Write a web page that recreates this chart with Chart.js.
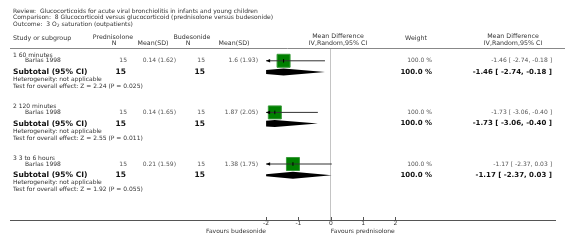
<!DOCTYPE html>
<html>
<head>
<meta charset="utf-8">
<script src="https://cdn.jsdelivr.net/npm/chart.js@4.4.0/dist/chart.umd.min.js"></script>
<style>
body { margin: 0; background: #fff; }
#wrap { width: 566px; height: 249px; }
</style>
</head>
<body>
<div id="wrap"><canvas id="forest" width="566" height="249"></canvas></div>
<script>
// datos del grafico
const groupNames = ['1 60 minutes', '2 120 minutes', '3 3 to 6 hours'];
const studyNames = ['Barlas 1998', 'Barlas 1998', 'Barlas 1998'];
const prednN = [15, 15, 15];
const prednMean = [0.14, 0.14, 0.21];
const prednSD = [1.62, 1.65, 1.59];
const budesN = [15, 15, 15];
const budesMean = [1.6, 1.87, 1.38];
const budesSD = [1.93, 2.05, 1.75];
const meanDiff = [-1.46, -1.73, -1.17];
const ciLow = [-2.74, -3.06, -2.37];
const ciHigh = [-0.18, -0.40, 0.03];
const weights = [100, 100, 100];
const zValues = [2.24, 2.55, 1.92];
const pValues = [0.025, 0.011, 0.055];
const xTicks = [-2, -1, 0, 1, 2];

// layout (pixeles)
const W = 566, H = 249;
const plotTop = 48.5, axisY = 220;
const tickLeftPx = 266, tickRightPx = 400;
const FONT = "'DejaVu Sans', Verdana, sans-serif";

const tMin = xTicks[0], tMax = xTicks[xTicks.length - 1];
const pxPerUnit = (tickRightPx - tickLeftPx) / (tMax - tMin);
const xMin = tMin - (tickLeftPx - 1) / pxPerUnit;
const xMax = tMax + (W - tickRightPx) / pxPerUnit;

function groupY(g) { return 55 + 51.6 * g; }
function studyY(g) { return groupY(g) + 5.8; }
function subtotalY(g) { return groupY(g) + 17; }

const sum = arr => arr.reduce((a, b) => a + b, 0);
const fmtCI = i => meanDiff[i].toFixed(2) + ' [ ' + ciLow[i].toFixed(2) + ', ' + ciHigh[i].toFixed(2) + ' ]';

// datasets
const datasets = [];
datasets.push({
    label: 'centro',
    data: meanDiff.map((v, i) => ({ x: v, y: studyY(i) })),
    pointStyle: 'line', rotation: 90, pointRadius: 1.8,
    borderColor: '#000', borderWidth: 1, showLine: false
});
meanDiff.forEach((v, i) => {
    datasets.push({
        label: 'ci' + i,
        data: [{ x: Math.max(ciLow[i], tMin), y: studyY(i) }, { x: Math.min(ciHigh[i], tMax), y: studyY(i) }],
        showLine: true, borderColor: '#333', borderWidth: 1, pointRadius: 0
    });
});
datasets.push({
    label: 'peso',
    data: meanDiff.map((v, i) => ({ x: v, y: studyY(i) })),
    pointStyle: 'rect', pointRadius: 9.2,
    backgroundColor: '#008000', borderColor: '#3a9a3a', borderWidth: 1, showLine: false
});

function text(ctx, str, x, y, align, font, color) {
    ctx.font = font;
    ctx.fillStyle = color;
    ctx.textAlign = align;
    ctx.textBaseline = 'middle';
    ctx.fillText(str, x, y);
}

const forestPlugin = {
    id: 'forestPlugin',
    afterDatasetsDraw(chart) {
        const ctx = chart.ctx;
        const xs = chart.scales.x, ys = chart.scales.y;
        const left = xs.getPixelForValue(tMin), right = xs.getPixelForValue(tMax);
        // diamantes
        ctx.save();
        ctx.beginPath();
        ctx.rect(left, chart.chartArea.top, right - left, chart.chartArea.bottom - chart.chartArea.top);
        ctx.clip();
        meanDiff.forEach((v, i) => {
            const y = ys.getPixelForValue(subtotalY(i));
            ctx.beginPath();
            ctx.moveTo(xs.getPixelForValue(ciLow[i]), y);
            ctx.lineTo(xs.getPixelForValue(v), y - 3.5);
            ctx.lineTo(xs.getPixelForValue(ciHigh[i]), y);
            ctx.lineTo(xs.getPixelForValue(v), y + 3.5);
            ctx.closePath();
            ctx.fillStyle = '#000';
            ctx.fill();
        });
        ctx.restore();
        // flechas
        ctx.save();
        ctx.fillStyle = '#000';
        meanDiff.forEach((v, i) => {
            const y = ys.getPixelForValue(studyY(i));
            if (ciLow[i] < tMin) {
                ctx.beginPath();
                ctx.moveTo(left, y);
                ctx.lineTo(left + 4, y - 1.8);
                ctx.lineTo(left + 4, y + 1.8);
                ctx.closePath();
                ctx.fill();
            }
            if (ciHigh[i] > tMax) {
                ctx.beginPath();
                ctx.moveTo(right, y);
                ctx.lineTo(right - 4, y - 1.8);
                ctx.lineTo(right - 4, y + 1.8);
                ctx.closePath();
                ctx.fill();
            }
        });
        // marcas del eje hacia adentro
        ctx.strokeStyle = '#555';
        ctx.lineWidth = 1;
        xTicks.forEach(t => {
            const x = Math.round(xs.getPixelForValue(t)) + 0.5;
            ctx.beginPath();
            ctx.moveTo(x, axisY);
            ctx.lineTo(x, axisY - 3);
            ctx.stroke();
        });
        ctx.restore();
    },
    afterDraw(chart) {
        const ctx = chart.ctx;
        ctx.save();
        const small = '6px ' + FONT;
        const head = '6.3px ' + FONT;
        const dark = '#333', grey = '#555';

        // titulo
        text(ctx, 'Review:  Glucocorticoids for acute viral bronchiolitis in infants and young children', 13, 11, 'left', small, dark);
        text(ctx, 'Comparison:  8 Glucocorticoid versus glucocorticoid (prednisolone versus budesonide)', 13, 17.5, 'left', small, dark);
        let s = 'Outcome:  3 O';
        text(ctx, s, 13, 24, 'left', small, dark);
        ctx.font = small;
        let w = ctx.measureText(s).width;
        text(ctx, '2', 13 + w, 26, 'left', '4.5px ' + FONT, dark);
        ctx.font = '4.5px ' + FONT;
        const w2 = ctx.measureText('2').width;
        text(ctx, ' saturation (outpatients)', 13 + w + w2, 24, 'left', small, dark);

        // encabezados
        text(ctx, 'Study or subgroup', 13, 38.5, 'left', head, dark);
        text(ctx, 'Prednisolone', 113, 37, 'center', head, dark);
        text(ctx, 'N', 114, 43.3, 'center', head, dark);
        text(ctx, 'Mean(SD)', 153, 43.3, 'center', head, dark);
        text(ctx, 'Budesonide', 192, 37, 'center', head, dark);
        text(ctx, 'N', 188, 43.3, 'center', head, dark);
        text(ctx, 'Mean(SD)', 234, 43.3, 'center', head, dark);
        text(ctx, 'Mean Difference', 338, 36.3, 'center', head, dark);
        text(ctx, 'IV,Random,95% CI', 338, 43.3, 'center', head, dark);
        text(ctx, 'Weight', 416, 38.5, 'center', head, dark);
        text(ctx, 'Mean Difference', 513, 36.3, 'center', head, dark);
        text(ctx, 'IV,Random,95% CI', 513, 43.3, 'center', head, dark);

        ctx.strokeStyle = '#888';
        ctx.lineWidth = 1;
        ctx.beginPath();
        ctx.moveTo(10, plotTop);
        ctx.lineTo(565, plotTop);
        ctx.stroke();

        // filas
        groupNames.forEach((g, i) => {
            const y0 = groupY(i), y1 = studyY(i), y2 = subtotalY(i);
            text(ctx, g, 13, y0, 'left', small, dark);
            text(ctx, studyNames[i], 25, y1, 'left', small, dark);
            text(ctx, String(prednN[i]), 127, y1, 'right', small, grey);
            text(ctx, prednMean[i] + ' (' + prednSD[i] + ')', 176, y1, 'right', small, grey);
            text(ctx, String(budesN[i]), 205, y1, 'right', small, grey);
            text(ctx, budesMean[i] + ' (' + budesSD[i] + ')', 258, y1, 'right', small, grey);
            text(ctx, weights[i].toFixed(1) + ' %', 432, y1, 'right', small, grey);
            text(ctx, fmtCI(i), 552, y1, 'right', small, grey);

            const bold = 'bold 7.5px ' + FONT;
            text(ctx, 'Subtotal (95% CI)', 13, y2, 'left', bold, '#111');
            text(ctx, String(sum([prednN[i]])), 126, y2, 'right', bold, '#111');
            text(ctx, String(sum([budesN[i]])), 205, y2, 'right', bold, '#111');
            text(ctx, weights[i].toFixed(1) + ' %', 432, y2, 'right', 'bold 7px ' + FONT, '#111');
            text(ctx, fmtCI(i), 552, y2, 'right', 'bold 7px ' + FONT, '#111');

            text(ctx, 'Heterogeneity: not applicable', 13, y0 + 24.5, 'left', small, dark);
            text(ctx, 'Test for overall effect: Z = ' + zValues[i] + ' (P = ' + pValues[i] + ')', 13, y0 + 31.5, 'left', small, dark);
        });

        // etiquetas del eje
        text(ctx, 'Favours budesonide', tickLeftPx, axisY + 11.5, 'right', small, dark);
        text(ctx, 'Favours prednisolone', chart.scales.x.getPixelForValue(0), axisY + 11.5, 'left', small, dark);
        ctx.restore();
    }
};

new Chart(document.getElementById('forest').getContext('2d'), {
    type: 'scatter',
    data: { datasets: datasets },
    options: {
        responsive: false,
        animation: false,
        events: [],
        layout: { padding: { left: 1, right: 0, top: plotTop, bottom: 0 } },
        plugins: { legend: { display: false }, tooltip: { enabled: false } },
        scales: {
            x: {
                type: 'linear',
                min: xMin,
                max: xMax,
                afterBuildTicks: scale => { scale.ticks = xTicks.map(v => ({ value: v })); },
                afterFit: scale => { scale.height = H - axisY; },
                ticks: {
                    autoSkip: false,
                    maxRotation: 0,
                    padding: 0,
                    color: '#333',
                    font: { family: FONT, size: 6 },
                    callback: v => String(v)
                },
                grid: {
                    drawTicks: false,
                    color: c => (c.tick && c.tick.value === 0) ? '#c4c4c4' : 'rgba(0,0,0,0)',
                    lineWidth: 1
                },
                border: { display: true, color: '#555', width: 1 }
            },
            y: {
                display: false,
                reverse: true,
                min: plotTop,
                max: axisY
            }
        }
    },
    plugins: [forestPlugin]
});
</script>
</body>
</html>
